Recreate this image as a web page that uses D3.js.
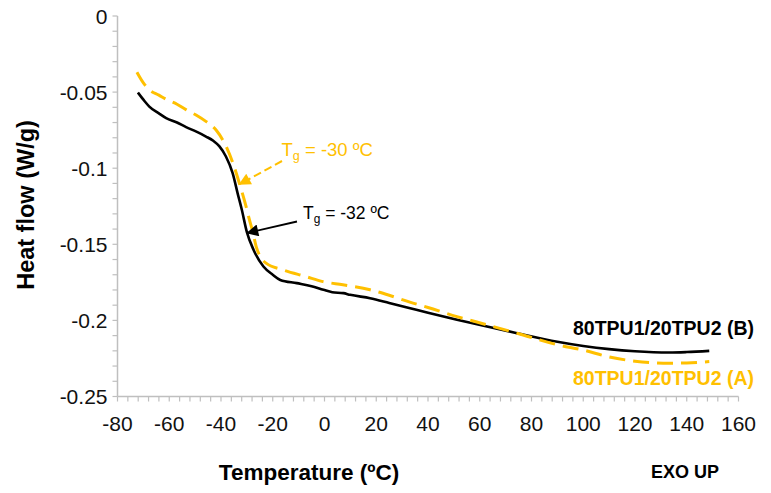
<!DOCTYPE html>
<html><head><meta charset="utf-8">
<script src="https://cdn.jsdelivr.net/npm/d3@7"></script>
<style>body{margin:0;background:#fff}svg{display:block}text{font-family:"Liberation Sans",Arial,sans-serif}</style>
</head><body><svg id="c" width="771" height="493"></svg>
<script>
const xTicks = [-80,-60,-40,-20,0,20,40,60,80,100,120,140,160];
const yTicks = [0,-0.05,-0.1,-0.15,-0.2,-0.25];
const yTickLabels = ["0","-0.05","-0.1","-0.15","-0.2","-0.25"];
const tempB = [-72.1,-69.5,-67.7,-64,-61.2,-57,-53.5,-49.5,-45.8,-43,-40.6,-38.1,-35.5,-33.5,-32,-30,-27.4,-23.6,-20,-17.1,-10.7,-5,-0.4,3,7.3,9.9,17.6,25,33.1,40,51.2,62.8,74.4,90,100,110,120,133.3,140,148.7];
const flowB = [-0.0503,-0.0560,-0.0595,-0.0640,-0.0671,-0.0700,-0.0730,-0.0760,-0.0792,-0.0820,-0.0857,-0.0923,-0.1032,-0.1170,-0.1270,-0.1420,-0.1537,-0.1646,-0.1700,-0.1734,-0.1755,-0.1775,-0.1799,-0.1815,-0.1821,-0.1832,-0.1854,-0.1885,-0.1920,-0.1950,-0.1996,-0.2040,-0.2084,-0.2140,-0.2168,-0.2189,-0.2203,-0.2211,-0.2208,-0.2200];
const tempA = [-72.5,-70,-67.6,-64,-61.2,-57,-53.4,-49.5,-45.7,-41.9,-38,-35.4,-32.9,-30.3,-29,-27.7,-26.4,-22.6,-16.1,-7.2,-0.6,7.1,17.6,25,33,40,51.2,62.8,74.4,90,100,110,120,133.3,140,148.7];
const flowA = [-0.0370,-0.0440,-0.0486,-0.0520,-0.0547,-0.0580,-0.0617,-0.0652,-0.0694,-0.0749,-0.0858,-0.0967,-0.1099,-0.1252,-0.1340,-0.1420,-0.1515,-0.1624,-0.1668,-0.1712,-0.1745,-0.1766,-0.1799,-0.1835,-0.1880,-0.1915,-0.1975,-0.2029,-0.2084,-0.2160,-0.2195,-0.2240,-0.2268,-0.2281,-0.2280,-0.2270];
const seriesNames = ["80TPU1/20TPU2 (B)","80TPU1/20TPU2 (A)"];
const tgLabels = ["-30 ºC","-32 ºC"];

const gold = "#FFC000";
const svg = d3.select("#c");
const x = d3.scaleLinear().domain([-80,160]).range([117.5,738.5]);
const y = d3.scaleLinear().domain([-0.25,0]).range([396.5,16]);

const xMinor = d3.range(-80,160.001,4);
const yMinor = d3.range(-0.25,0.0001,0.01);
const axisCol = "#BFBFBF";

const gx = svg.append("g").attr("transform",`translate(0,${y(-0.25)})`);
gx.append("line").attr("x1",x(-80)).attr("x2",x(160)).attr("stroke",axisCol).attr("stroke-width",1.5);
gx.selectAll("line.t").data(xMinor).join("line").attr("class","t")
  .attr("x1",d=>x(d)).attr("x2",d=>x(d)).attr("y1",0).attr("y2",5).attr("stroke",axisCol).attr("stroke-width",1.2);
gx.selectAll("text").data(xTicks).join("text").attr("x",d=>x(d)).attr("y",34)
  .attr("text-anchor","middle").attr("font-size",21).attr("fill","#111").text(d=>d);

const gy = svg.append("g").attr("transform",`translate(${x(-80)},0)`);
gy.append("line").attr("y1",y(0)).attr("y2",y(-0.25)).attr("stroke",axisCol).attr("stroke-width",1.5);
gy.selectAll("line.t").data(yMinor).join("line").attr("class","t")
  .attr("y1",d=>y(d)).attr("y2",d=>y(d)).attr("x1",0).attr("x2",-5).attr("stroke",axisCol).attr("stroke-width",1.2);
gy.selectAll("text").data(yTicks).join("text").attr("x",-10).attr("y",d=>y(d)+7.5)
  .attr("text-anchor","end").attr("font-size",21).attr("fill","#111").text((d,i)=>yTickLabels[i]);

const line = d3.line().x(d=>x(d[0])).y(d=>y(d[1])).curve(d3.curveMonotoneX);
const dataA = tempA.map((t,i)=>[t,flowA[i]]);
const dataB = tempB.map((t,i)=>[t,flowB[i]]);
svg.append("path").datum(dataB).attr("d",line).attr("fill","none").attr("stroke","#000").attr("stroke-width",2.6);
svg.append("path").datum(dataA).attr("d",line).attr("fill","none").attr("stroke",gold).attr("stroke-width",3).attr("stroke-dasharray","16,8");

const defs = svg.append("defs");
function marker(id,col){
  defs.append("marker").attr("id",id).attr("viewBox","0 0 10 10").attr("refX",9).attr("refY",5)
   .attr("markerWidth",14).attr("markerHeight",12).attr("markerUnits","userSpaceOnUse").attr("orient","auto")
   .append("path").attr("d","M0,0L10,5L0,10Z").attr("fill",col);
}
marker("ag",gold); marker("ab","#000");
svg.append("line").attr("x1",282).attr("y1",161).attr("x2",x(-32.8)).attr("y2",y(-0.1105))
  .attr("stroke",gold).attr("stroke-width",2).attr("stroke-dasharray","8,4").attr("marker-end","url(#ag)");
svg.append("line").attr("x1",297).attr("y1",221.5).attr("x2",x(-29.8)).attr("y2",y(-0.1425))
  .attr("stroke","#000").attr("stroke-width",1.8).attr("marker-end","url(#ab)");

function tg(xp,yp,size,col,val){
  const t = svg.append("text").attr("x",xp).attr("y",yp).attr("font-size",size).attr("fill",col);
  t.append("tspan").text("T");
  t.append("tspan").attr("font-size",size*0.68).attr("dy",4).text("g");
  t.append("tspan").attr("dy",-4).text(" = "+val);
}
tg(281.5,156,18.5,gold,tgLabels[0]);
tg(303,219,17.5,"#000",tgLabels[1]);

svg.append("text").attr("x",573).attr("y",335).attr("font-size",19.5).attr("font-weight","bold").attr("fill","#000").text(seriesNames[0]);
svg.append("text").attr("x",573).attr("y",385).attr("font-size",19.5).attr("font-weight","bold").attr("fill",gold).text(seriesNames[1]);

svg.append("text").attr("x",309).attr("y",480).attr("text-anchor","middle").attr("font-size",22.5).attr("font-weight","bold").text("Temperature (ºC)");
svg.append("text").attr("x",685).attr("y",478).attr("text-anchor","middle").attr("font-size",18).attr("font-weight","bold").text("EXO UP");
svg.append("text").attr("transform","translate(34,205) rotate(-90)").attr("text-anchor","middle").attr("font-size",23.5).attr("font-weight","bold").text("Heat flow (W/g)");
</script></body></html>
